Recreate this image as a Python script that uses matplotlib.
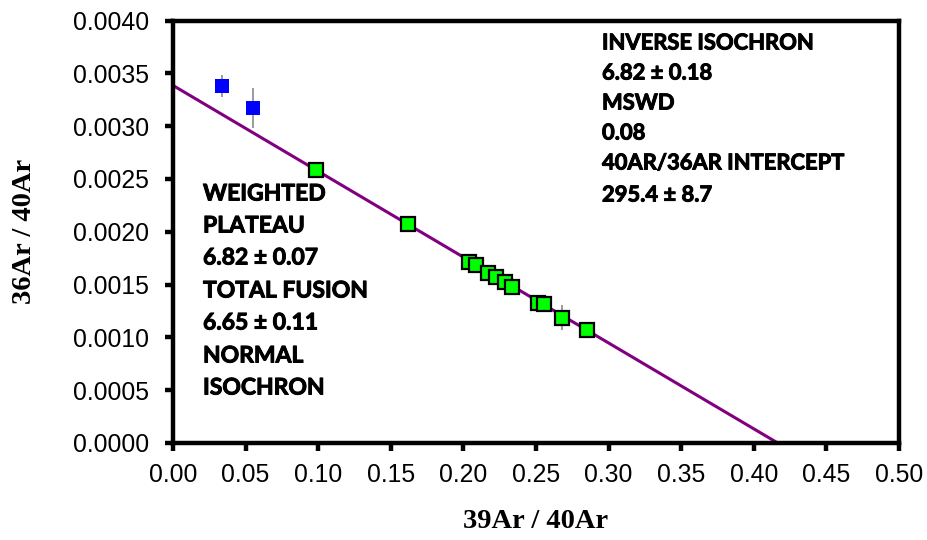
import matplotlib
matplotlib.use("Agg")
import matplotlib.pyplot as plt
import matplotlib.patheffects as pe
import numpy as np

# Data
blue_x = [0.0335, 0.0549]
blue_y = [0.00338, 0.00317]
blue_err = [0.00010, 0.00019]

green_x = [0.0985, 0.1618, 0.2041, 0.2087, 0.2167, 0.2224, 0.2287, 0.2332,
           0.2512, 0.2557, 0.2677, 0.2853]
green_y = [0.002585, 0.002073, 0.001716, 0.001685, 0.001613, 0.001575,
           0.001527, 0.001474, 0.001328, 0.001313, 0.001186, 0.001070]
green_err = [0.00004, 0.00003, 0.00003, 0.00003, 0.00003, 0.00003,
             0.00003, 0.00003, 0.00003, 0.00003, 0.00012, 0.00003]

fit_intercept = 1 / 295.4
fit_x_intercept = 0.4165

x_ticks = [0.00, 0.05, 0.10, 0.15, 0.20, 0.25, 0.30, 0.35, 0.40, 0.45, 0.50]
y_ticks = [0.0000, 0.0005, 0.0010, 0.0015, 0.0020, 0.0025, 0.0030, 0.0035, 0.0040]

left_text = ["WEIGHTED", "PLATEAU", "6.82 \u00b1 0.07", "TOTAL FUSION",
             "6.65 \u00b1 0.11", "NORMAL", "ISOCHRON"]
right_text = ["INVERSE ISOCHRON", "6.82 \u00b1 0.18", "MSWD", "0.08",
              "40AR/36AR INTERCEPT", "295.4 \u00b1 8.7"]

W, H = 928, 540
fig = plt.figure(figsize=(W / 100, H / 100), dpi=100)
ax = fig.add_axes([173 / W, (H - 443) / H, (899 - 173) / W, (443 - 20.5) / H])

# fit line
lx = np.array([0.0, fit_x_intercept])
ly = fit_intercept * (1 - lx / fit_x_intercept)
ax.plot(lx, ly, color="#800080", lw=2.2, zorder=2)

ax.errorbar(blue_x, blue_y, yerr=blue_err, fmt="s", color="#0000FF",
            ms=10.5, mec="#0000FF", mew=0, ecolor="#808080", elinewidth=1.1,
            capsize=0, zorder=3)
ax.errorbar(green_x, green_y, yerr=green_err, fmt="none", ecolor="#808080",
            elinewidth=1.1, capsize=0, zorder=3)
ax.plot(green_x, green_y, "s", color="#00FF00", ms=10.5, mec="black",
        mew=1.6, zorder=4, linestyle="none")

ax.set_xlim(0, 0.5)
ax.set_ylim(0, 0.004)
ax.set_xticks(x_ticks)
ax.set_xticklabels([f"{v:.2f}" for v in x_ticks])
ax.set_yticks(y_ticks)
ax.set_yticklabels([f"{v:.4f}" for v in y_ticks])

for s in ax.spines.values():
    s.set_linewidth(3.2)
ax.tick_params(axis="both", direction="out", length=5.5, width=3.2,
               labelsize=17.8)
for lab in ax.get_xticklabels() + ax.get_yticklabels():
    lab.set_fontfamily("Liberation Sans")
ax.tick_params(axis="x", pad=9)
ax.tick_params(axis="y", pad=12)

fig.text(536 / W, 1 - 522 / H, "39Ar / 40Ar", ha="center", va="center",
         fontsize=20.5, fontweight="bold", family="Liberation Serif")
fig.text(25 / W, 1 - 231 / H, "36Ar / 40Ar", ha="center", va="center",
         rotation=90, fontsize=20.5, fontweight="bold", family="Liberation Serif")

thick = [pe.withStroke(linewidth=0.7, foreground="black")]
left_y = [194, 226, 258, 291, 323, 356, 388]
for t, yy in zip(left_text, left_y):
    fig.text(203 / W, 1 - yy / H, t, ha="left", va="center", fontsize=16.5,
             fontweight="bold", family="Lato", path_effects=thick)
right_y = [43, 73, 103, 133, 163, 195]
for t, yy in zip(right_text, right_y):
    fig.text(602 / W, 1 - yy / H, t, ha="left", va="center", fontsize=15.8,
             fontweight="bold", family="Lato", path_effects=thick)

fig.savefig("out.png", dpi=100)
